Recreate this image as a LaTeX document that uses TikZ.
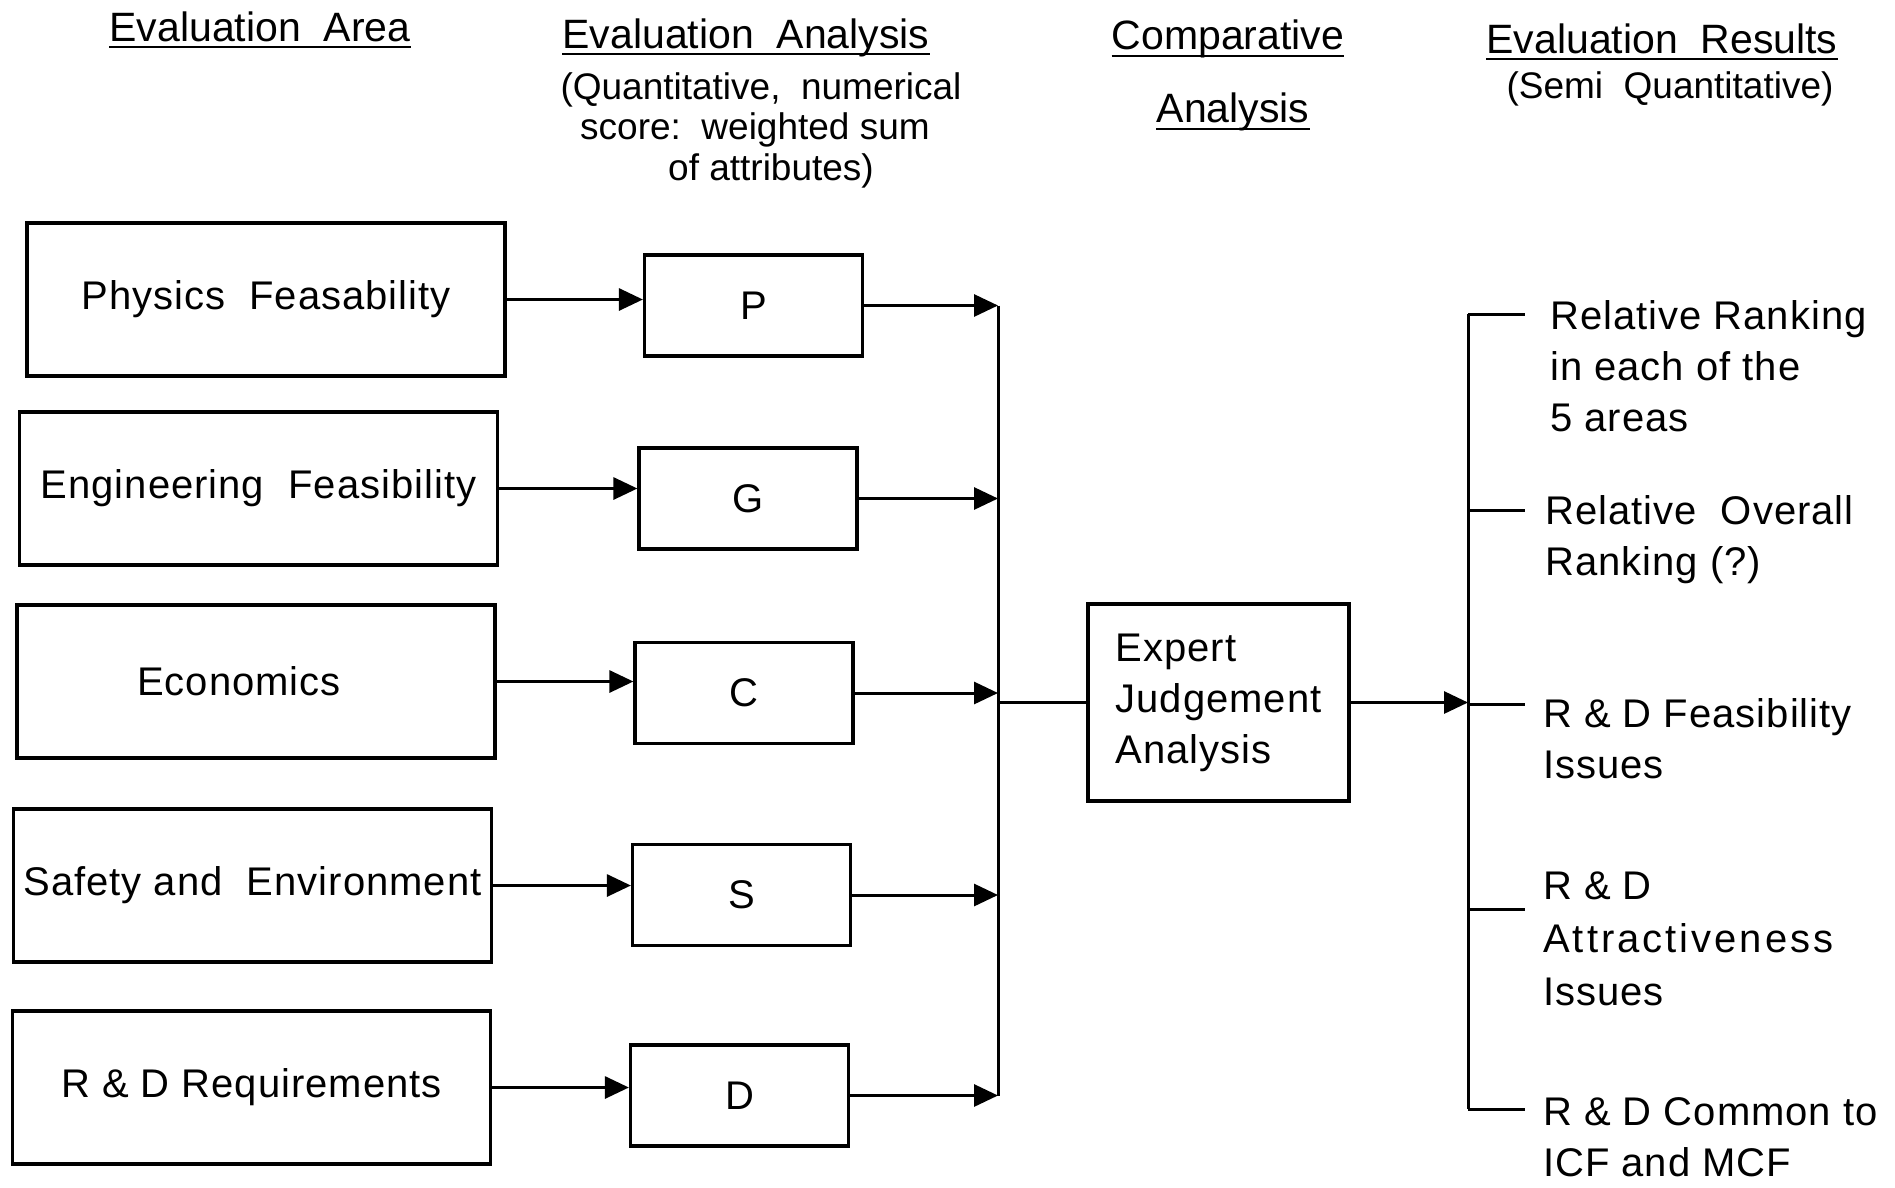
\documentclass[tikz,border=0pt]{standalone}
\usepackage{fontspec}
\setmainfont{Liberation Sans}
\newfontfamily\lblfont{Liberation Sans}[LetterSpace=2.5]
\usetikzlibrary{arrows.meta}
\begin{document}
\begin{tikzpicture}[x=1pt,y=-1pt,
  bigbox/.style={draw,line width=3.2pt,minimum width=478pt,minimum height=153pt,inner sep=0pt,font=\lblfont\fontsize{40}{48}\selectfont},
  smallbox/.style={draw,line width=3.2pt,minimum width=218pt,minimum height=101pt,inner sep=0pt,font=\fontsize{40}{48}\selectfont},
  expbox/.style={draw,line width=3.2pt,minimum width=261pt,minimum height=197pt,inner sep=0pt,align=left,font=\lblfont\fontsize{40}{51}\selectfont},
  hdr/.style={inner sep=0pt,anchor=base,font=\fontsize{41}{49}\selectfont},
  subhdr/.style={inner sep=0pt,anchor=base,font=\fontsize{37}{41}\selectfont},
  uline/.style={line width=2.5pt},
  arr/.style={line width=3pt,-{Triangle[length=24pt,width=22pt]}},
  conn/.style={line width=3pt},
  restext/.style={inner sep=0pt,anchor=north west,align=left,font=\lblfont\fontsize{40}{51}\selectfont},
]
\useasboundingbox (0,0) rectangle (1895,1187);

% headers
\node[hdr] (h1) at (260,41) {Evaluation~~Area};
\draw[uline] ([yshift=-6pt]h1.base west) -- ([yshift=-6pt]h1.base east);
\node[hdr] (h2) at (746,48) {Evaluation~~Analysis};
\draw[uline] ([yshift=-6pt]h2.base west) -- ([yshift=-6pt]h2.base east);
\node[subhdr] (s1) at (761,99) {(Quantitative,~~numerical};
\node[subhdr] (s2) at (755,139) {score:~~weighted sum};
\node[subhdr] (s3) at (771,180) {of attributes)};
\node[hdr] (h3) at (1228,49) {Comparative};
\draw[uline] ([yshift=-7pt]h3.base west) -- ([yshift=-7pt]h3.base east);
\node[hdr] (h4) at (1233,122) {Analysis};
\draw[uline] ([yshift=-7pt]h4.base west) -- ([yshift=-7pt]h4.base east);
\node[hdr] (h5) at (1662,53) {Evaluation~~Results};
\draw[uline] ([yshift=-6pt]h5.base west) -- ([yshift=-6pt]h5.base east);
\node[subhdr] (s4) at (1670,98) {(Semi~~Quantitative)};

% left boxes
\node[bigbox] (L1) at (266,299.5) {Physics~~Feasability};
\node[bigbox] (L2) at (258.5,488.5) {Engineering~~Feasibility};
\node[bigbox] (L3) at (256,681.5) {Economics\hspace*{34pt}};
\node[bigbox] (L4) at (252.5,885.5) {Safety and~~Environment};
\node[bigbox] (L5) at (251.5,1087.5) {R \& D Requirements};

% small boxes
\node[smallbox] (P) at (753.5,305.5) {P};
\node[smallbox] (G) at (748,498.5) {G};
\node[smallbox] (C) at (744,693) {C};
\node[smallbox] (S) at (741.5,895) {S};
\node[smallbox] (D) at (739.5,1095.5) {D};

\draw[arr] (L1.east) -- (L1.east -| P.west);
\draw[arr] (L2.east) -- (L2.east -| G.west);
\draw[arr] (L3.east) -- (L3.east -| C.west);
\draw[arr] (L4.east) -- (L4.east -| S.west);
\draw[arr] (L5.east) -- (L5.east -| D.west);

% left bus
\coordinate (bus) at (998,0);
\draw[arr] (P.east) -- (P.east -| bus);
\draw[arr] (G.east) -- (G.east -| bus);
\draw[arr] (C.east) -- (C.east -| bus);
\draw[arr] (S.east) -- (S.east -| bus);
\draw[arr] (D.east) -- (D.east -| bus);
\draw[conn] (P.east -| bus) -- (D.east -| bus);

% expert box
\node[expbox] (E) at (1218.5,702.5) {Expert\\Judgement\\Analysis};
\draw[conn] (E.west -| bus) -- (E.west);

% right bus
\coordinate (rb) at (1468,0);
\coordinate (r1) at (1525,314);
\coordinate (r2) at (1525,510);
\coordinate (r3) at (1525,704);
\coordinate (r4) at (1525,909);
\coordinate (r5) at (1525,1109);
\draw[arr] (E.east) -- (E.east -| rb);
\draw[conn] (r1 -| rb) -- (r5 -| rb);
\draw[conn] (r1 -| rb) -- (r1);
\draw[conn] (r2 -| rb) -- (r2);
\draw[conn] (r3 -| rb) -- (r3);
\draw[conn] (r4 -| rb) -- (r4);
\draw[conn] (r5 -| rb) -- (r5);

% result texts
\node[restext] (R1) at (1550,300) {Relative~Ranking\\in each of the\\5 areas};
\node[restext] (R2) at (1545,495) {Relative~~Overall\\Ranking (?)};
\node[restext] (R3) at (1543,698) {R \& D Feasibility\\Issues};
\node[restext,font=\lblfont\fontsize{40}{53}\selectfont] (R4) at (1543,872) {R \& D\\{\addfontfeature{LetterSpace=7.5}Attractiveness}\\Issues};
\node[restext] (R5) at (1543,1097) {R \& D Common to\\ICF and MCF};
\end{tikzpicture}
\end{document}
